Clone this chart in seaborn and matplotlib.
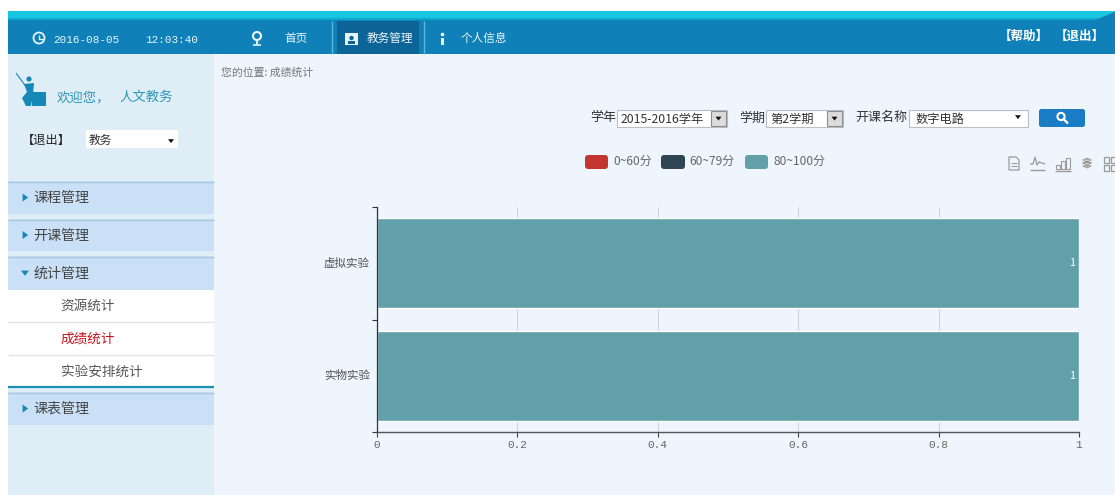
import matplotlib
matplotlib.use("Agg")
import matplotlib.pyplot as plt
from matplotlib.patches import Rectangle, FancyBboxPatch, Polygon, Circle
import seaborn as sns
import pandas as pd

categories = ["虚拟实验", "实物实验"]
series_names = ["0~60分", "60~79分", "80~100分"]
score_0_60 = [0, 0]
score_60_79 = [0, 0]
score_80_100 = [1, 1]
series_colors = ["#c23531", "#2f4554", "#61a0a8"]
x_ticks = [0, 0.2, 0.4, 0.6, 0.8, 1]
x_tick_labels = ["0", "0.2", "0.4", "0.6", "0.8", "1"]

W, H = 1115, 495
CJK = ["Noto Sans CJK SC", "DejaVu Sans"]
sns.set_theme(style="white")
plt.rcParams["font.family"] = CJK
fig = plt.figure(figsize=(W / 100, H / 100), dpi=100, facecolor="white")

# ---------- page chrome, in pixel coordinates ----------
ui = fig.add_axes([0, 0, 1, 1], zorder=0)
ui.set_xlim(0, W)
ui.set_ylim(H, 0)
ui.axis("off")


def rect(x0, y0, x1, y1, color, **kw):
    ui.add_patch(Rectangle((x0, y0), x1 - x0, y1 - y0, facecolor=color, edgecolor=kw.pop("ec", "none"), lw=kw.pop("lw", 0), **kw))


def rrect(x0, y0, x1, y1, color, r=2.5):
    ui.add_patch(FancyBboxPatch((x0 + r, y0 + r), x1 - x0 - 2 * r, y1 - y0 - 2 * r,
                                boxstyle=f"round,pad={r},rounding_size={r}", facecolor=color, edgecolor="none"))


def txt(x, y, s, size=8.6, color="#555555", **kw):
    kw.setdefault("va", "center")
    kw.setdefault("ha", "left")
    ui.text(x, y, s, fontsize=size, color=color, **kw)


def line(xs, ys, color, lw=1.0):
    ui.plot(xs, ys, color=color, lw=lw, solid_capstyle="butt")


def tri(x, y, s, color, down=False):
    if down:
        pts = [(x - s, y - s * 0.6), (x + s, y - s * 0.6), (x, y + s * 0.7)]
    else:
        pts = [(x - s * 0.6, y - s), (x - s * 0.6, y + s), (x + s * 0.8, y)]
    ui.add_patch(Polygon(pts, facecolor=color, edgecolor="none"))


rect(8, 54, W, H, "#eef5fc")
rect(8, 54, 214, H, "#dfeef6")

# header
rect(8, 11, W, 20, "#19c6e0")
rect(8, 18, W, 21, "#0ea9cf")
rect(8, 20, W, 54, "#0f81b8")
ui.add_patch(Polygon([(1095, 20), (W, 20), (W, 12)], facecolor="#0f81b8", edgecolor="none"))
rect(337, 21, 419, 54, "#0c6596")
line([332, 332], [21, 54], "#5db7da")
line([424, 424], [21, 54], "#5db7da")

W_ = "#e8f4fa"
mono = ["Liberation Mono", "DejaVu Sans Mono"]
ui.add_patch(Circle((39, 38), 5.5, facecolor="none", edgecolor=W_, lw=1.3))
line([39, 39, 43], [34.5, 38.5, 38.5], W_, 1)
txt(53, 40, "2016-08-05", 7.9, W_, family=mono)
txt(145, 40, "12:03:40", 7.9, W_, family=mono)
ui.add_patch(Circle((257, 36), 4, facecolor="none", edgecolor=W_, lw=1.5))
line([257, 257], [40, 44], W_, 1.5)
line([253, 261], [44.5, 44.5], W_, 1.2)
txt(284, 38.5, "首页", 8.4, W_)
rect(345, 33, 358, 45, W_)
ui.add_patch(Circle((351.5, 38), 2.2, facecolor="#0c6596", edgecolor="none"))
rect(348, 41, 355, 44, "#0c6596")
txt(367, 38.5, "教务管理", 8.4, W_)
rect(441, 38, 444, 45, W_)
ui.add_patch(Circle((442.5, 34.5), 1.8, facecolor=W_, edgecolor="none"))
txt(461, 38.5, "个人信息", 8.4, W_)
txt(999, 36, "【帮助】", 9.0, "white", weight="bold")
txt(1055, 36, "【退出】", 9.0, "white", weight="bold")

# sidebar top
blue = "#1588b8"
line([16, 27], [73, 88], blue, 0.8)
ui.add_patch(Circle((29, 79), 2.6, facecolor=blue, edgecolor="none"))
ui.add_patch(Polygon([(24, 84), (34, 83), (33, 95), (31, 106), (26, 106), (22, 98), (27, 92)], facecolor=blue, edgecolor="none"))
rect(32, 92, 46, 106, blue)
txt(57, 97, "欢迎您，", 9.6, "#2d95b8")
txt(119, 97, "人文教务", 9.6, "#2d95b8")
txt(22, 140, "【退出】", 8.8, "#222222", weight="medium")
rect(86, 130, 178, 148, "white")
txt(89, 140, "教务", 8.4, "#333333")
tri(171, 141, 3, "#111111", down=True)

# sidebar menu
band = "#cae0f7"
edge = "#a9c8dd"
menu_names = ["课程管理", "开课管理", "统计管理", "课表管理"]
menu_bands = [(181, 214), (219, 251), (256, 290), (392, 425)]
for name, (y0, y1) in zip(menu_names, menu_bands):
    rect(8, y0, 214, y1, band)
    line([8, 214], [y0 + 0.5, y0 + 0.5], edge, 1)
    txt(33.5, (y0 + y1) / 2 + 0.5, name, 10.1, "#444444")
    if name == "统计管理":
        tri(25, (y0 + y1) / 2, 4, blue, down=True)
    else:
        tri(25, (y0 + y1) / 2, 4, blue)
rect(8, 290, 214, 386, "white")
line([8, 214], [322, 322], "#e2e2e2", 1)
line([8, 214], [355, 355], "#e2e2e2", 1)
line([8, 214], [386.5, 386.5], "#1d8fb5", 1.6)
txt(60.5, 305.5, "资源统计", 9.8, "#555555")
txt(60.5, 338.5, "成绩统计", 9.8, "#c8141e")
txt(60.5, 371.5, "实验安排统计", 9.8, "#555555")

# breadcrumb
txt(221, 72, "您的位置: 成绩统计", 7.8, "#777777")

# filter row
def select(x0, x1, label, tx, btn=True):
    rect(x0, 109.5, x1, 127, "white", ec="#b8bfc6", lw=0.8)
    txt(tx, 119, label, 8.8, "#333333")
    if btn:
        rect(x1 - 16, 110.5, x1 - 1, 126, "#dcdcdc", ec="#8d8d8d", lw=0.8)
        tri(x1 - 8.5, 118.5, 3, "#111111", down=True)


txt(590, 118, "学年", 9.4, "#333333")
select(617, 727, "2015-2016学年", 621)
txt(739, 118, "学期", 9.4, "#333333")
select(766, 843, "第2学期", 770)
txt(855, 117.5, "开课名称", 9.4, "#333333")
select(909, 1028, "数字电路", 916, btn=False)
tri(1018, 117, 3, "#111111", down=True)
rrect(1039, 109, 1085, 127, "#1a7cc4")
ui.add_patch(Circle((1061, 116.5), 3.6, facecolor="none", edgecolor="white", lw=1.5))
line([1064, 1068], [119.5, 123.5], "white", 1.7)

# legend
swatches = [(585, 608, 613), (661, 685, 689), (745, 768, 773)]
for name, color, (a, b, t) in zip(series_names, series_colors, swatches):
    rrect(a, 155, b, 169, color, r=3)
    txt(t, 161.5, name, 8.6, "#666666")

# toolbox
g = "#9a9a9a"
ui.add_patch(Polygon([(1009, 157), (1016, 157), (1019, 160), (1019, 170), (1009, 170)], facecolor="none", edgecolor=g, lw=0.9))
line([1011, 1017], [163, 163], g, 0.8)
line([1011, 1017], [166, 166], g, 0.8)
line([1030, 1033, 1035, 1037, 1039, 1045], [164, 164, 157, 165, 162, 164], g, 0.9)
line([1030, 1045], [170, 170], g, 1)
for bx, top in [(1056, 165), (1061, 161), (1066, 158)]:
    rect(bx, top, bx + 3.5, 169, "none", ec=g, lw=0.8)
line([1055, 1071], [170.5, 170.5], g, 1)
for dy, c in [(0, "#a8a8a8"), (3, "#8f8f8f"), (6, "#a8a8a8")]:
    ui.add_patch(Polygon([(1087, 157 + dy), (1093, 160 + dy), (1087, 163 + dy), (1081, 160 + dy)], facecolor=c, edgecolor="white", lw=0.4))
for bx, by in [(1104, 157), (1111, 157), (1104, 165), (1111, 165)]:
    rect(bx, by, bx + 5, by + 5.5, "none", ec=g, lw=0.9)

# ---------- chart ----------
left, right, top, bottom = 377, 1079, 207, 432
ax = fig.add_axes([left / W, 1 - bottom / H, (right - left) / W, (bottom - top) / H], zorder=1)
ax.patch.set_alpha(0)

cumulative = [0, 0]
for name, values, color in zip(series_names, [score_0_60, score_60_79, score_80_100], series_colors):
    df = pd.DataFrame({"cat": categories, "v": values})
    sns.barplot(data=df, x="v", y="cat", orient="h", color=color, width=0.8, saturation=1,
                left=cumulative, ax=ax, errorbar=None, zorder=2)
    cumulative = [c + v for c, v in zip(cumulative, values)]

for i, v in enumerate(score_80_100):
    ax.text(cumulative[i] - 0.005, i, str(v), color="white", fontsize=7.8, ha="right", va="center")

ax.set_xlim(0, 1)
ax.set_ylim(1.5, -0.5)
ax.set_xlabel("")
ax.set_ylabel("")
ax.set_xticks(x_ticks)
ax.set_xticklabels(x_tick_labels, fontsize=8, color="#666666", family=["Liberation Mono", "DejaVu Sans"])
ax.set_yticks([-0.5, 0.5, 1.5])
ax.set_yticklabels([])
for i, name in enumerate(categories):
    ax.annotate(name, xy=(0, i), xycoords=("axes fraction", "data"), xytext=(-7, 0),
                textcoords="offset pixels", ha="right", va="center", fontsize=8.3, color="#555555")
ax.grid(axis="x", color="#cfd5da", lw=0.8, zorder=0)
ax.set_axisbelow(True)
ax.tick_params(axis="x", length=3.6, width=0.8, color="#444444", pad=2, bottom=True)
ax.tick_params(axis="y", length=3.6, width=0.8, color="#333333", left=True)
for s in ["top", "right"]:
    ax.spines[s].set_visible(False)
ax.spines["left"].set_color("#333333")
ax.spines["left"].set_linewidth(0.9)
ax.spines["bottom"].set_color("#555555")
ax.spines["bottom"].set_linewidth(1.0)

fig.savefig("out.png", dpi=100)
